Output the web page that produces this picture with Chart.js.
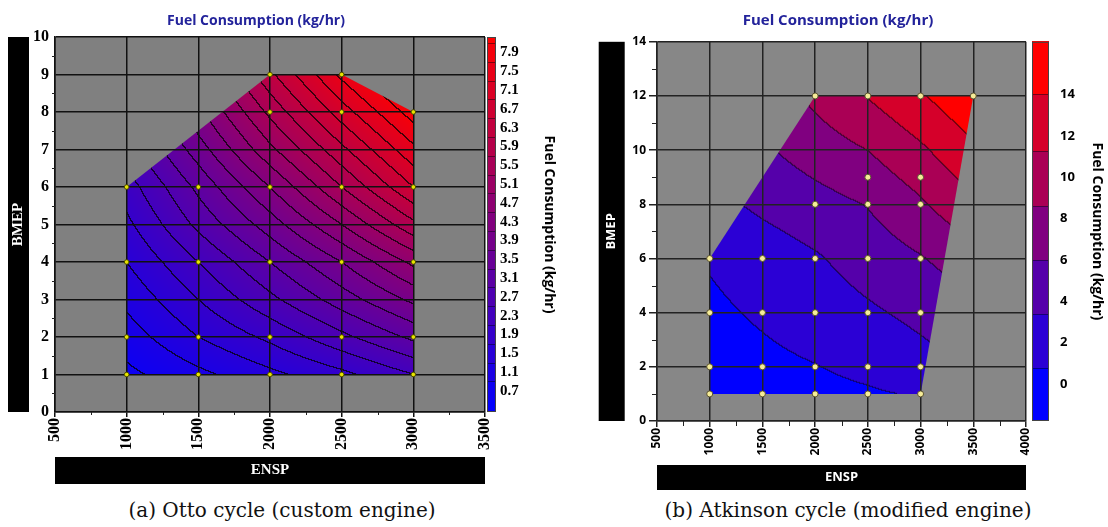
<!DOCTYPE html>
<html>
<head>
<meta charset="utf-8">
<script src="https://cdn.jsdelivr.net/npm/chart.js@4.4.1/dist/chart.umd.min.js"></script>
<style>
  body { margin: 0; background: #fff; width: 1108px; height: 527px; position: relative; overflow: hidden; }
  canvas { position: absolute; top: 0; }
  #otto { left: 0; }
  #atk { left: 560px; }
  .cap { position: absolute; top: 498px; font-family: "DejaVu Serif", serif; font-size: 20px; color: #111;
         white-space: nowrap; transform: translateX(-50%); }
</style>
</head>
<body>
<canvas id="otto" width="560" height="492"></canvas>
<canvas id="atk" width="548" height="495"></canvas>
<div class="cap" style="left:282px">(a) Otto cycle (custom engine)</div>
<div class="cap" style="left:848px">(b) Atkinson cycle (modified engine)</div>
<script>
// ---- (a) Otto cycle ----
const ottoEnsp = [1000, 1500, 2000, 2500, 3000];
const ottoBmep = [1, 2, 3, 4, 5, 6, 7, 8, 9];
// fuel consumption (kg/hr), one row per ottoBmep value
const ottoFuel = [
  [0.6, 1.0, 1.4, 1.8, 2.3],
  [0.9, 1.5, 2.0, 2.6, 3.2],
  [1.2, 1.9, 2.6, 3.3, 4.0],
  [1.5, 2.3, 3.1, 3.9, 4.8],
  [1.8, 2.8, 3.7, 4.7, 5.8],
  [2.1, 3.2, 4.3, 5.5, 6.7],
  [2.5, 3.7, 5.0, 6.2, 7.4],
  [2.9, 4.2, 5.6, 6.9, 8.1],
  [3.3, 4.7, 6.2, 7.6, 8.8]
];
const ottoEdgeEnsp = [1000, 3000, 3000, 2500, 2000, 1000];
const ottoEdgeBmep = [1, 1, 8, 9, 9, 6];
const ottoDotEnsp = [1000, 1500, 2000, 2500, 3000, 1000, 1500, 2000, 2500, 3000, 1000, 1500, 2000, 2500, 3000,
                     1000, 1500, 2000, 2500, 3000, 2000, 2500, 3000, 2000, 2500];
const ottoDotBmep = [1, 1, 1, 1, 1, 2, 2, 2, 2, 2, 4, 4, 4, 4, 4, 6, 6, 6, 6, 6, 8, 8, 8, 9, 9];
const ottoEnspTicks = [500, 1000, 1500, 2000, 2500, 3000, 3500];
const ottoBmepTicks = [0, 1, 2, 3, 4, 5, 6, 7, 8, 9, 10];
const ottoFuelTicks = [0.7, 1.1, 1.5, 1.9, 2.3, 2.7, 3.1, 3.5, 3.9, 4.3, 4.7, 5.1, 5.5, 5.9, 6.3, 6.7, 7.1, 7.5, 7.9];

// ---- (b) Atkinson cycle ----
const atkEnsp = [1000, 1500, 2000, 2500, 3000, 3500];
const atkBmep = [1, 2, 4, 6, 8, 10, 12];
const atkFuel = [
  [-0.6, -0.1, 0.1, 0.5, 1.0, 1.6],
  [-0.3, 0.2, 0.7, 1.4, 2.5, 3.5],
  [0.3, 1.1, 2.0, 3.0, 4.0, 5.2],
  [1.0, 2.0, 3.1, 4.5, 5.8, 7.5],
  [2.6, 3.9, 5.0, 6.1, 8.2, 10.8],
  [4.0, 5.6, 7.2, 8.6, 10.8, 13.5],
  [5.0, 6.8, 9.2, 11.4, 13.7, 16.3]
];
const atkLevels = [0.78, 3.38, 5.98, 8.58, 11.26, 14.0];
const atkEdgeEnsp = [1000, 3000, 3500, 2000, 1000];
const atkEdgeBmep = [1, 1, 12, 12, 6];
const atkDotEnsp = [1000, 1500, 2000, 2500, 3000, 1000, 1500, 2000, 2500, 3000, 1000, 1500, 2000, 2500, 3000,
                    1000, 1500, 2000, 2500, 3000, 2000, 2500, 3000, 2500, 3000, 2000, 2500, 3000, 3500];
const atkDotBmep = [1, 1, 1, 1, 1, 2, 2, 2, 2, 2, 4, 4, 4, 4, 4, 6, 6, 6, 6, 6, 8, 8, 8, 9, 9, 12, 12, 12, 12];
const atkEnspTicks = [500, 1000, 1500, 2000, 2500, 3000, 3500, 4000];
const atkBmepTicks = [0, 2, 4, 6, 8, 10, 12, 14];
const atkFuelTicks = [0, 2, 4, 6, 8, 10, 12, 14];

const TITLE = 'Fuel Consumption (kg/hr)';

function heat(t) {
  t = Math.max(0, Math.min(1, t));
  return [Math.round(255 * t), 0, Math.round(255 * (1 - t))];
}

function bilinear(xs, ys, zz, u, v) {
  let i = 0; while (i < xs.length - 2 && u > xs[i + 1]) i++;
  let j = 0; while (j < ys.length - 2 && v > ys[j + 1]) j++;
  const tx = Math.max(0, Math.min(1, (u - xs[i]) / (xs[i + 1] - xs[i])));
  const ty = Math.max(0, Math.min(1, (v - ys[j]) / (ys[j + 1] - ys[j])));
  return zz[j][i] * (1 - tx) * (1 - ty) + zz[j][i + 1] * tx * (1 - ty) +
         zz[j + 1][i] * (1 - tx) * ty + zz[j + 1][i + 1] * tx * ty;
}

function bandOf(levels, z) {
  let k = 0;
  while (k < levels.length && z >= levels[k]) k++;
  return k;
}

function drawField(chart, p) {
  const { ctx, chartArea: a, scales: { x, y, cb } } = chart;
  const w = Math.round(a.right - a.left), h = Math.round(a.bottom - a.top);
  const off = document.createElement('canvas');
  off.width = w; off.height = h;
  const octx = off.getContext('2d');
  const img = octx.createImageData(w, h);
  const zs = new Float32Array(w * h), bands = new Int16Array(w * h);
  for (let r = 0; r < h; r++) {
    const v = y.getValueForPixel(a.top + r + 0.5);
    for (let c = 0; c < w; c++) {
      const u = x.getValueForPixel(a.left + c + 0.5);
      const z = bilinear(p.ensp, p.bmep, p.fuel, u, v);
      zs[r * w + c] = z;
      bands[r * w + c] = bandOf(p.levels, z);
    }
  }
  for (let r = 0; r < h; r++) {
    for (let c = 0; c < w; c++) {
      const k = r * w + c;
      const col = p.banded ? heat(bands[k] / p.levels.length) : heat((zs[k] - cb.min) / (cb.max - cb.min));
      const edge = (c < w - 1 && bands[k] !== bands[k + 1]) || (r < h - 1 && bands[k] !== bands[k + w]);
      const f = edge ? p.lineDark : 1;
      img.data[k * 4] = col[0] * f;
      img.data[k * 4 + 1] = col[1] * f;
      img.data[k * 4 + 2] = col[2] * f;
      img.data[k * 4 + 3] = 255;
    }
  }
  octx.putImageData(img, 0, 0);
  ctx.save();
  ctx.beginPath();
  p.edgeEnsp.forEach((e, k) => {
    const px = x.getPixelForValue(e), py = y.getPixelForValue(p.edgeBmep[k]);
    k ? ctx.lineTo(px, py) : ctx.moveTo(px, py);
  });
  ctx.closePath();
  ctx.clip();
  ctx.drawImage(off, a.left, a.top);
  ctx.restore();
}

function drawColorbar(chart, p) {
  const { ctx, chartArea: a, scales: { cb } } = chart;
  const x0 = a.right + p.cbGap, bw = p.cbWidth;
  for (let py = Math.floor(a.top); py < a.bottom; py++) {
    const v = cb.getValueForPixel(py + 0.5);
    let col;
    if (p.banded) {
      col = heat(bandOf(p.levels, v) / p.levels.length);
    } else {
      const step = p.cbTicks[1] - p.cbTicks[0];
      const q = p.cbTicks[0] + Math.round((v - p.cbTicks[0]) / step) * step;
      col = heat((q - cb.min) / (cb.max - cb.min));
    }
    ctx.fillStyle = `rgb(${col[0]},${col[1]},${col[2]})`;
    ctx.fillRect(x0, py, bw, 1);
  }
  ctx.strokeStyle = 'rgba(0,0,0,0.45)';
  ctx.lineWidth = 1;
  const seps = p.banded ? p.levels : p.cbTicks.map(t => t + (p.cbTicks[1] - p.cbTicks[0]) / 2);
  seps.forEach(s => {
    const py = Math.round(cb.getPixelForValue(s)) + 0.5;
    if (py > a.top && py < a.bottom) {
      ctx.beginPath(); ctx.moveTo(x0, py); ctx.lineTo(x0 + bw, py); ctx.stroke();
    }
  });
  ctx.strokeStyle = '#444';
  ctx.strokeRect(x0 + 0.5, a.top + 0.5, bw - 1, a.bottom - a.top - 1);
}

function drawBars(chart, p) {
  const { ctx, chartArea: a, scales: { x, y } } = chart;
  ctx.save();
  ctx.fillStyle = '#000';
  const yf = Chart.helpers.toFont(y.options.title.font), yp = Chart.helpers.toPadding(y.options.title.padding);
  const cx = y.left + yp.top + yf.lineHeight / 2;
  ctx.fillRect(cx - p.yBar / 2, a.top, p.yBar, a.bottom - a.top);
  const xf = Chart.helpers.toFont(x.options.title.font), xp = Chart.helpers.toPadding(x.options.title.padding);
  const cy = x.bottom - xp.bottom - xf.lineHeight / 2;
  ctx.fillRect(a.left, cy - p.xBar / 2, a.right - a.left, p.xBar);
  ctx.restore();
}

function drawMinorTicks(chart, p) {
  const { ctx, chartArea: a, scales: { x, y } } = chart;
  ctx.save();
  ctx.strokeStyle = '#222';
  ctx.lineWidth = 1;
  for (let i = 0; i < x.ticks.length - 1; i++) {
    const px = Math.round((x.getPixelForValue(x.ticks[i].value) + x.getPixelForValue(x.ticks[i + 1].value)) / 2) + 0.5;
    ctx.beginPath(); ctx.moveTo(px, a.bottom); ctx.lineTo(px, a.bottom + p.minor); ctx.stroke();
  }
  for (let i = 0; i < y.ticks.length - 1; i++) {
    const py = Math.round((y.getPixelForValue(y.ticks[i].value) + y.getPixelForValue(y.ticks[i + 1].value)) / 2) + 0.5;
    ctx.beginPath(); ctx.moveTo(a.left - p.minor, py); ctx.lineTo(a.left, py); ctx.stroke();
  }
  ctx.restore();
}

function build(id, p) {
  const plug = {
    id: 'contour',
    beforeDraw(chart) {
      const { ctx, chartArea: a } = chart;
      ctx.save();
      ctx.fillStyle = p.gray;
      ctx.fillRect(a.left, a.top, a.right - a.left, a.bottom - a.top);
      ctx.restore();
      drawField(chart, p);
      drawColorbar(chart, p);
      drawBars(chart, p);
    },
    afterDraw(chart) {
      drawMinorTicks(chart, p);
      const ctx = chart.ctx;
      ctx.save();
      ctx.font = p.titleFont;
      ctx.fillStyle = '#23239b';
      ctx.textAlign = 'center';
      ctx.textBaseline = 'middle';
      ctx.fillText(TITLE, p.titleX, 21);
      ctx.restore();
    }
  };
  return new Chart(document.getElementById(id), {
    type: 'scatter',
    data: {
      datasets: [{
        data: p.dotEnsp.map((e, i) => ({ x: e, y: p.dotBmep[i] })),
        pointRadius: p.dotR,
        pointBackgroundColor: p.dotFill,
        pointBorderColor: p.dotLine,
        pointBorderWidth: 1
      }]
    },
    options: {
      responsive: false,
      animation: false,
      devicePixelRatio: 1,
      layout: { padding: { top: p.top, left: 0, right: 0, bottom: 0 } },
      plugins: { legend: { display: false }, tooltip: { enabled: false } },
      scales: {
        x: {
          type: 'linear', min: p.xTicks[0], max: p.xTicks[p.xTicks.length - 1],
          afterBuildTicks(s) { s.ticks = p.xTicks.map(v => ({ value: v })); },
          afterFit(s) { s.height = p.xH; },
          ticks: { font: p.tickFont, color: '#000', minRotation: 90, maxRotation: 90, padding: p.xPad,
                   autoSkip: false, callback: v => String(v) },
          grid: { color: p.gridColor, lineWidth: 1.5, tickLength: p.xTickLen },
          border: { color: p.gridColor, width: 1.5 },
          title: { display: true, text: 'ENSP', color: '#fff', font: p.axisFont, padding: { top: 0, bottom: p.xTitlePad } }
        },
        y: {
          type: 'linear', min: p.yTicks[0], max: p.yTicks[p.yTicks.length - 1],
          afterBuildTicks(s) { s.ticks = p.yTicks.map(v => ({ value: v })); },
          afterFit(s) { s.width = p.yW; },
          ticks: { font: p.tickFont, color: '#000', padding: p.yPad, autoSkip: false, callback: v => String(v) },
          grid: { color: p.gridColor, lineWidth: 1.5, drawTicks: p.yTickLen > 0, tickLength: p.yTickLen },
          border: { color: p.gridColor, width: 1.5 },
          title: { display: true, text: 'BMEP', color: '#fff', font: p.axisFont, padding: { top: p.yTitlePad, bottom: 0 } }
        },
        cb: {
          type: 'linear', axis: 'y', position: 'right', min: p.cbMin, max: p.cbMax,
          afterBuildTicks(s) { s.ticks = p.cbTicks.map(v => ({ value: v })); },
          afterFit(s) { s.width = p.cbW; },
          ticks: { font: p.cbFont, color: '#000', padding: p.cbPad, autoSkip: false, callback: p.cbFmt },
          grid: { display: false, drawTicks: false, drawOnChartArea: false },
          border: { display: false },
          title: { display: true, text: TITLE, color: '#000', font: { family: '"Open Sans"', weight: 'bold', size: 14 },
                   padding: { top: p.cbTitlePad, bottom: 0 } }
        }
      }
    },
    plugins: [plug]
  });
}

build('otto', {
  ensp: ottoEnsp, bmep: ottoBmep, fuel: ottoFuel, levels: ottoFuelTicks, banded: false, lineDark: 0.28,
  edgeEnsp: ottoEdgeEnsp, edgeBmep: ottoEdgeBmep, dotEnsp: ottoDotEnsp, dotBmep: ottoDotBmep,
  dotR: 2.3, dotFill: '#e8e400', dotLine: '#4d4d00',
  xTicks: ottoEnspTicks, yTicks: ottoBmepTicks, cbTicks: ottoFuelTicks, cbMin: 0.25, cbMax: 8.23,
  cbFmt: v => v.toFixed(1), cbGap: 2, cbWidth: 9, cbW: 75, cbPad: 15, cbTitlePad: 3,
  cbFont: { family: '"Liberation Serif"', weight: 'bold', size: 15 },
  top: 37, xH: 80, yW: 55, xPad: 1, xTickLen: 5, yPad: 6, yTickLen: 0, minor: 3,
  xTitlePad: 12.5, yTitlePad: 9.5, xBar: 27, yBar: 21,
  tickFont: { family: '"Liberation Serif"', weight: 'bold', size: 16 },
  axisFont: { family: '"Liberation Serif"', weight: 'bold', size: 15 },
  gridColor: '#111', gray: '#808080', titleX: 256, titleFont: 'bold 14px "Open Sans"'
});

build('atk', {
  ensp: atkEnsp, bmep: atkBmep, fuel: atkFuel, levels: atkLevels, banded: true, lineDark: 0.5,
  edgeEnsp: atkEdgeEnsp, edgeBmep: atkEdgeBmep, dotEnsp: atkDotEnsp, dotBmep: atkDotBmep,
  dotR: 3, dotFill: '#f6ec98', dotLine: '#5a5232',
  xTicks: atkEnspTicks, yTicks: atkBmepTicks, cbTicks: atkFuelTicks, cbMin: -1.8, cbMax: 16.55,
  cbFmt: v => String(v), cbGap: 6, cbWidth: 17, cbW: 82, cbPad: 34, cbTitlePad: 3,
  cbFont: { family: '"Open Sans"', weight: 'bold', size: 13 },
  top: 33, xH: 74, yW: 97, xPad: 1, xTickLen: 6, yPad: 3, yTickLen: 8, minor: 5,
  xTitlePad: 9.7, yTitlePad: 43.9, xBar: 25, yBar: 26,
  tickFont: { family: '"Open Sans"', weight: 'bold', size: 12 },
  axisFont: { family: '"Open Sans"', weight: 'bold', size: 13 },
  gridColor: '#222', gray: '#878787', titleX: 278, titleFont: 'bold 15px "Open Sans"'
});
</script>
</body>
</html>
